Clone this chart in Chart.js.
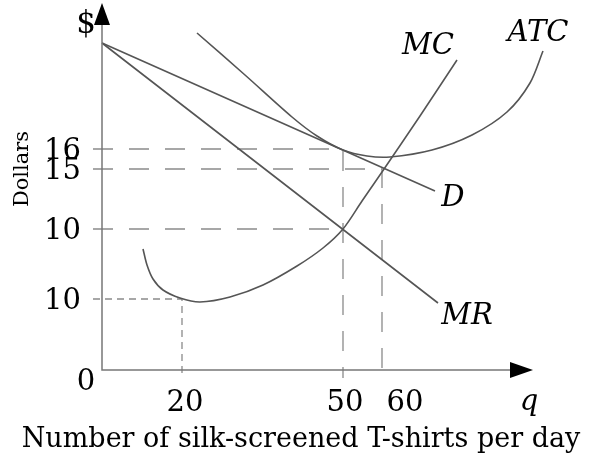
<!DOCTYPE html>
<html>
<head>
<meta charset="utf-8">
<script src="https://cdn.jsdelivr.net/npm/chart.js@4.4.1/dist/chart.umd.min.js"></script>
<style>
  html, body { margin: 0; padding: 0; background: #fff; }
  #grafico { display: block; }
</style>
</head>
<body>
<canvas id="grafico" width="592" height="461"></canvas>
<script>
// the diagram is not drawn to scale: x and y are "diagram units"
// (distance right of the $ axis / above the q axis)
const qTicks = [80, 241, 280];
const qLabels = ['20', '50', '60'];
const priceTicks = [221, 201, 141, 71];
const priceLabels = ['16', '15', '10', '10'];

const demand = [[0, 327], [333, 179]];
const marginalRevenue = [[0, 327], [336, 67]];
const marginalCost = [[41, 121], [45, 105], [51, 91], [61, 80], [78, 72], [98, 68], [128, 73],
  [161, 85], [195, 104], [221, 122], [241, 141], [260, 169], [280, 198], [318, 254], [355, 310]];
const averageTotalCost = [[95, 337], [143, 295], [190, 253], [215, 234], [241, 220], [265, 214],
  [288, 213], [330, 220], [370, 235], [405, 258], [428, 287], [441, 319]];

(function(){
	const SERIF = '"DejaVu Serif", "Liberation Serif", serif';
	const LINE = '#555';
	const GUIDE = '#8a8a8a';

	function pts(arr){ return arr.map(p => ({ x: p[0], y: p[1] })); }

	function curve(data, label){
		return { label: label, data: pts(data), showLine: true, borderColor: LINE, borderWidth: 1.6,
			pointRadius: 0, tension: 0.3, clip: false };
	}
	function guide(data, dash){
		return { data: pts(data), showLine: true, borderColor: GUIDE, borderWidth: 1.3,
			borderDash: dash, pointRadius: 0, tension: 0, clip: false };
	}

	// dashed guides from the price levels to the quantities
	const guides = [
		guide([[-9, priceTicks[0]], [qTicks[1], priceTicks[0]], [qTicks[1], -8]], [20, 16]),
		guide([[-9, priceTicks[1]], [qTicks[2], priceTicks[1]], [qTicks[2], -8]], [20, 16]),
		guide([[-9, priceTicks[2]], [qTicks[1], priceTicks[2]]], [20, 16]),
		guide([[-9, priceTicks[3]], [qTicks[0], priceTicks[3]], [qTicks[0], -8]], [7, 5])
	];

	const labelsPlugin = {
		id: 'diagram',
		afterDraw(chart){
			const ctx = chart.ctx;
			const xs = chart.scales.x, ys = chart.scales.y;
			const ox = xs.getPixelForValue(0), oy = ys.getPixelForValue(0);
			ctx.save();
			// axes
			ctx.strokeStyle = '#777';
			ctx.lineWidth = 1.5;
			ctx.beginPath();
			ctx.moveTo(ox, 22); ctx.lineTo(ox, oy);
			ctx.lineTo(512, oy);
			ctx.stroke();
			ctx.fillStyle = '#000';
			ctx.beginPath();
			ctx.moveTo(ox, 3); ctx.lineTo(ox - 8, 25); ctx.lineTo(ox + 8, 25); ctx.closePath();
			ctx.fill();
			ctx.beginPath();
			ctx.moveTo(533, oy); ctx.lineTo(510, oy - 8); ctx.lineTo(510, oy + 8); ctx.closePath();
			ctx.fill();

			// tick labels
			ctx.font = '29px ' + SERIF;
			ctx.textBaseline = 'middle';
			ctx.textAlign = 'right';
			priceTicks.forEach((v, i) => ctx.fillText(priceLabels[i], 81, ys.getPixelForValue(v) + 2));
			ctx.textAlign = 'center';
			const shift = [3, 2, 23];
			qTicks.forEach((v, i) => ctx.fillText(qLabels[i], xs.getPixelForValue(v) + shift[i], 403));
			ctx.fillText('0', ox - 16, oy + 12);
			ctx.font = '31px ' + SERIF;
			ctx.fillText('$', 86, 25);

			// curve names
			ctx.font = 'italic 29px ' + SERIF;
			ctx.fillText('MC', 428, 46);
			ctx.fillText('ATC', 538, 33);
			ctx.fillText('D', 453, 198);
			ctx.fillText('MR', 467, 316);
			ctx.fillText('q', 529, 402);

			// axis titles
			ctx.font = '27px ' + SERIF;
			ctx.fillText('Number of silk-screened T-shirts per day', 301, 440);
			ctx.save();
			ctx.translate(23, 169);
			ctx.rotate(-Math.PI / 2);
			ctx.font = '21px ' + SERIF;
			ctx.fillText('Dollars', 0, 0);
			ctx.restore();
			ctx.restore();
		}
	};

	function creaGrafico(){
		const canvas = document.getElementById('grafico');
		return new Chart(canvas.getContext('2d'), {
			type: 'scatter',
			data: {
				datasets: [
					curve(demand, 'D'),
					curve(marginalRevenue, 'MR'),
					curve(marginalCost, 'MC'),
					curve(averageTotalCost, 'ATC')
				].concat(guides)
			},
			options: {
				responsive: false,
				animation: false,
				devicePixelRatio: 1,
				layout: { padding: { left: 102, right: 20, top: 3, bottom: 91 } },
				scales: {
					x: { type: 'linear', min: 0, max: 470, display: false },
					y: { type: 'linear', min: 0, max: 367, display: false }
				},
				plugins: { legend: { display: false }, tooltip: { enabled: false } }
			},
			plugins: [labelsPlugin]
		});
	}

	creaGrafico();
})();
</script>
</body>
</html>
